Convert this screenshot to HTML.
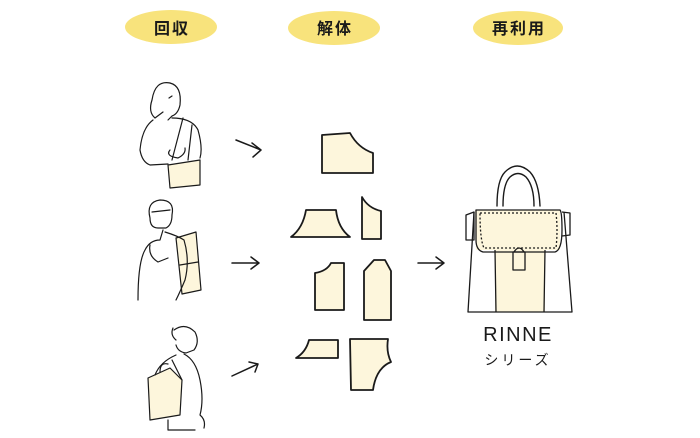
<!DOCTYPE html>
<html><head><meta charset="utf-8"><style>
html,body{margin:0;padding:0;background:#fff;}
svg{display:block}
</style></head><body>
<svg width="700" height="438" viewBox="0 0 700 438" xmlns="http://www.w3.org/2000/svg" font-family="'Liberation Sans','Noto Sans CJK JP',sans-serif">
<g fill="#f8e37c">
<ellipse cx="171" cy="27" rx="46" ry="17"/>
<ellipse cx="334" cy="28" rx="46" ry="17"/>
<ellipse cx="518" cy="28" rx="45" ry="17"/>
</g>
<g font-size="16" font-weight="bold" fill="#1a1a1a" text-anchor="middle" letter-spacing="2">
<text x="172" y="34">回収</text>
<text x="335" y="34">解体</text>
<text x="519" y="34">再利用</text>
</g>
<g fill="none" stroke="#1a1a1a" stroke-width="1.5" stroke-linecap="round" stroke-linejoin="round">
<path d="M236 140 L261 150 M252 143 L261 150 L253 157"/>
<path d="M232 263 L259 263 M251 257 L259 263 L251 269"/>
<path d="M232 376 L258 364 M249 362 L258 364 L255 372"/>
<path d="M418 263 L444 263 M436 257 L444 263 L436 269"/>
</g>
<g fill="#fdf6dc" stroke="#1a1a1a" stroke-width="1.8" stroke-linejoin="round">
<path d="M322 135 L350 133 Q358 148 373 153 L373 173 L322 173 Z"/>
<path d="M306 210 L336 210 Q338 228 350 237 L291 237 Q303 228 306 210 Z"/>
<path d="M362 197 Q368 208 381 211 L381 239 L362 239 Z"/>
<path d="M331 263 L344 263 L344 310 L315 310 L315 273 Q327 271 331 263 Z"/>
<path d="M374 260 L385 260 L391 271 L391 320 L364 320 L364 271 Z"/>
<path d="M309 340 L338 340 L338 358 L296 358 Q306 352 309 340 Z"/>
<path d="M350 339 L388 339 Q386 352 391 362 Q376 368 373 390 L351 390 Z"/>
</g>
<g fill="#fdf6dc" stroke="none">
<path d="M168 165 L200 160 L200 185 L170 188 Z"/>
<path d="M176 238 L196 232 L201 290 L182 294 Z"/>
<path d="M148 378 L170 368 L182 380 L180 415 L150 420 Z"/>
</g>
<g fill="none" stroke="#1a1a1a" stroke-width="1.2" stroke-linecap="round" stroke-linejoin="round">
<path d="M170 83 Q155 80 152 100 Q148 112 155 118 L163 112"/>
<path d="M170 83 Q182 86 180 105 Q178 114 172 116 L168 120"/>
<path d="M172 96 L169 98"/>
<path d="M153 120 Q142 128 140 150 Q142 162 150 165 L168 164"/>
<path d="M172 118 Q192 118 198 130 Q203 148 200 158"/>
<path d="M183 118 L172 160 M192 125 L188 160"/>
<path d="M168 165 L200 160 L200 185 L170 188 Z"/>
<path d="M170 150 Q165 156 178 158 Q186 154 185 148"/>
<path d="M150 218 Q146 202 160 200 Q175 200 172 215 Q172 225 166 228 L158 228 Q150 228 150 218"/>
<path d="M152 212 L170 210"/>
<path d="M163 230 L160 240 Q150 240 145 250 Q138 262 138 300"/>
<path d="M165 232 Q178 236 184 240 Q190 260 185 280 Q180 292 176 300"/>
<path d="M176 238 L196 232 L201 290 L182 294 Z M180 265 L198 262"/>
<path d="M150 245 Q148 256 158 262 L168 258"/>
<path d="M174 330 Q185 322 195 332 Q200 342 194 350 L186 353 Q178 352 176 345"/>
<path d="M176 340 Q170 335 173 328"/>
<path d="M184 354 Q196 360 200 380 Q204 400 200 415 Q206 420 204 428"/>
<path d="M176 355 Q160 362 155 375"/>
<path d="M148 378 L170 368 L182 380 L180 415 L150 420 Z"/>
<path d="M160 372 Q160 362 168 364 M172 360 L182 380"/>
<path d="M168 420 L168 430 L195 430"/>
</g>
<g fill="none" stroke="#1a1a1a" stroke-width="1.4" stroke-linecap="round">
<path d="M497 206 Q497 180 505 172 Q517 160 530 172 Q539 182 540 206"/>
<path d="M503 206 Q503 184 510 177 Q518 170 526 177 Q534 186 534 206"/>
</g>
<g fill="#fdf6dc" stroke="none">
<path d="M475 210 L560 210 L560 250 L545 250 L545 312 L495 312 L495 250 L476 250 Z"/>
</g>
<g fill="none" stroke="#1a1a1a" stroke-width="1.3" stroke-linejoin="round">
<path d="M474 212 L468 312 L572 312 L564 212"/>
<path d="M495 250 L496 312 M545 250 L544 312"/>
<path d="M476 210 L560 210 Q562 212 562 230 Q562 250 555 252 L483 252 Q476 250 476 240 Z"/>
<path d="M480 213 L556 213 Q558 230 556 248 L484 248 Q480 240 480 213" stroke-dasharray="2 2"/>
<path d="M466 215 L474 212 L474 240 L466 240 Z M562 212 L570 213 L570 235 L562 236"/>
<rect x="513" y="252" width="12" height="18"/>
<path d="M514 252 Q519 244 524 252"/>
</g>
<text x="518" y="341" text-anchor="middle" font-size="20" fill="#1a1a1a" letter-spacing="1.5">RINNE</text>
<text x="518" y="365" text-anchor="middle" font-size="14" fill="#1a1a1a" letter-spacing="3">シリーズ</text>
</svg>
</body></html>
